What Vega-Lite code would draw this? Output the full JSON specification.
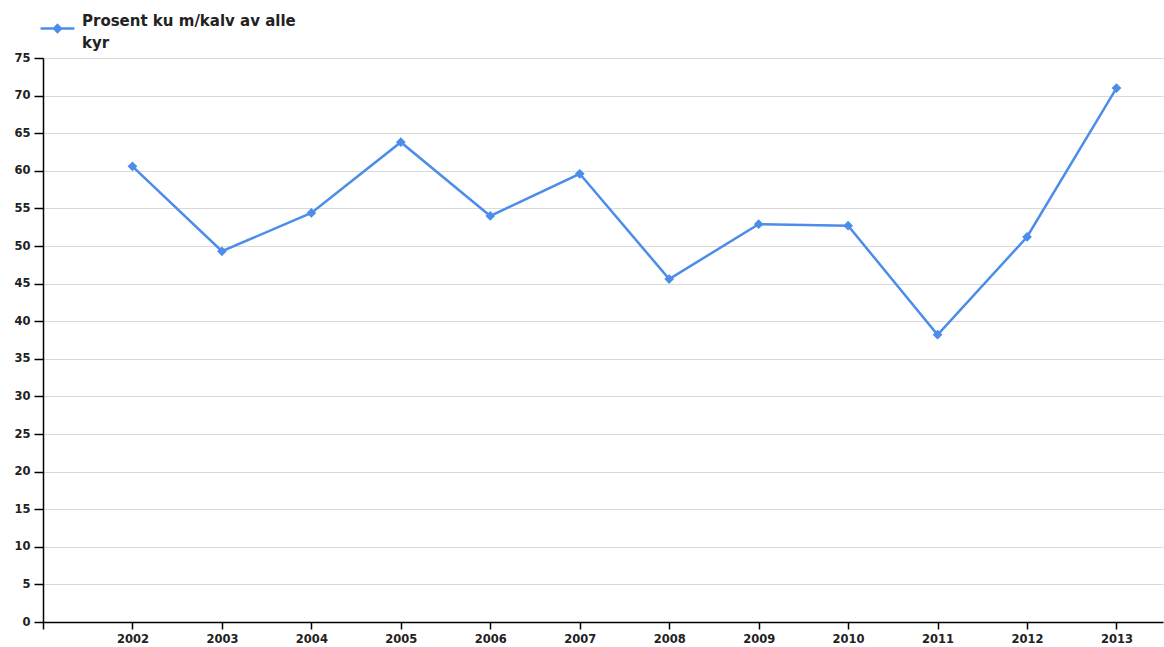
{
  "$schema": "https://vega.github.io/schema/vega-lite/v6.json",
  "width": 1120,
  "height": 564,
  "autosize": {"type": "none"},
  "padding": {"left": 43, "top": 58, "right": 1, "bottom": 25},
  "background": "white",
  "config": {
    "view": {"stroke": null},
    "font": "DejaVu Sans"
  },
  "data": {
    "values": [
      {"year": 2002, "value": 60.6, "series": "Prosent ku m/kalv av alle kyr"},
      {"year": 2003, "value": 49.3, "series": "Prosent ku m/kalv av alle kyr"},
      {"year": 2004, "value": 54.4, "series": "Prosent ku m/kalv av alle kyr"},
      {"year": 2005, "value": 63.8, "series": "Prosent ku m/kalv av alle kyr"},
      {"year": 2006, "value": 54.0, "series": "Prosent ku m/kalv av alle kyr"},
      {"year": 2007, "value": 59.6, "series": "Prosent ku m/kalv av alle kyr"},
      {"year": 2008, "value": 45.6, "series": "Prosent ku m/kalv av alle kyr"},
      {"year": 2009, "value": 52.9, "series": "Prosent ku m/kalv av alle kyr"},
      {"year": 2010, "value": 52.7, "series": "Prosent ku m/kalv av alle kyr"},
      {"year": 2011, "value": 38.2, "series": "Prosent ku m/kalv av alle kyr"},
      {"year": 2012, "value": 51.2, "series": "Prosent ku m/kalv av alle kyr"},
      {"year": 2013, "value": 71.0, "series": "Prosent ku m/kalv av alle kyr"}
    ]
  },
  "encoding": {
    "x": {
      "field": "year",
      "type": "quantitative",
      "scale": {"domain": [2001, 2013.52], "nice": false, "zero": false},
      "axis": {
        "title": null,
        "values": [2001, 2002, 2003, 2004, 2005, 2006, 2007, 2008, 2009, 2010, 2011, 2012, 2013],
        "labelExpr": "datum.value == 2001 ? '' : datum.value",
        "format": "d",
        "grid": false,
        "domainColor": "#000000",
        "domainWidth": 1.5,
        "tickColor": "#000000",
        "tickSize": 7,
        "tickWidth": 1.5,
        "labelFontSize": 11.5,
        "labelFontWeight": "bold",
        "labelColor": "#222222",
        "labelPadding": 4,
        "labelFlush": false
      }
    },
    "y": {
      "field": "value",
      "type": "quantitative",
      "scale": {"domain": [0, 75], "nice": false},
      "axis": {
        "title": null,
        "values": [0, 5, 10, 15, 20, 25, 30, 35, 40, 45, 50, 55, 60, 65, 70, 75],
        "grid": true,
        "gridColor": "#d9d9d9",
        "gridWidth": 1,
        "domainColor": "#000000",
        "domainWidth": 1.5,
        "tickColor": "#000000",
        "tickSize": 9,
        "tickWidth": 1.5,
        "labelFontSize": 11.5,
        "labelFontWeight": "bold",
        "labelColor": "#222222",
        "labelPadding": 4,
        "labelFlush": false
      }
    },
    "color": {
      "field": "series",
      "type": "nominal",
      "scale": {"range": ["#4C8DEA"]},
      "legend": {
        "title": null,
        "orient": "none",
        "legendX": -4,
        "legendY": -48,
        "labelFontSize": 15,
        "labelFontWeight": "bold",
        "labelColor": "#222222",
        "labelExpr": "['Prosent ku m/kalv av alle', 'kyr']",
        "labelLimit": 400,
        "labelBaseline": "bottom",
        "labelOffset": 6,
        "symbolType": "M-1,0H1M0,-0.2L0.2,0L0,0.2L-0.2,0Z",
        "symbolSize": 1150,
        "symbolStrokeWidth": 2.5,
        "symbolFillColor": "#4C8DEA",
        "symbolStrokeColor": "#4C8DEA",
        "padding": 0,
        "encode": {"labels": {"update": {"lineHeight": {"value": 22}}}}
      }
    }
  },
  "layer": [
    {"mark": {"type": "line", "strokeWidth": 2.5}},
    {"mark": {"type": "point", "shape": "diamond", "filled": true, "size": 95, "opacity": 1}}
  ]
}
